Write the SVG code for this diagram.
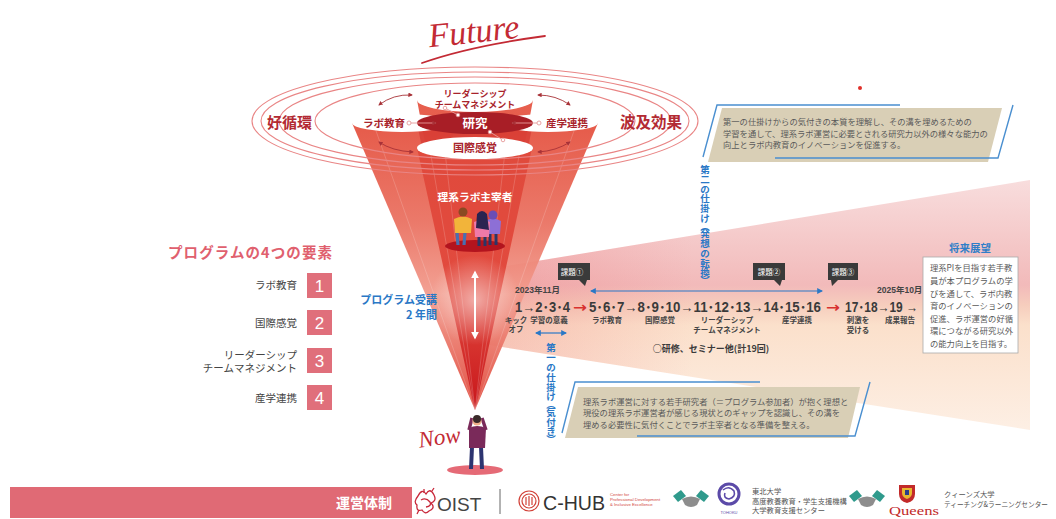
<svg xmlns="http://www.w3.org/2000/svg" width="1056" height="519" viewBox="0 0 1056 519">
<defs>
<style>
.ring{fill:none;stroke:#e98585;stroke-width:1.1}
.cap{fill:#fff}
.ct{font-family:"Noto Sans CJK JP",sans-serif;fill:#a8232b;font-weight:700;text-anchor:middle}
.bl{fill:none;stroke:#4a8fd0;stroke-width:1.4}
.paper{fill:#d9cfb6}
.note{font-family:"Noto Sans CJK JP",sans-serif;fill:#5a5a5a;font-size:8.3px}
.lbl{font-family:"Noto Sans CJK JP",sans-serif;fill:#444;font-size:7.5px;font-weight:700;text-anchor:middle}
.vert{font-family:"Noto Sans CJK JP",sans-serif;fill:#2a78c6;font-weight:700;font-size:9.5px;text-anchor:middle}
.tag{fill:#3a3a3a}
.tagt{font-family:"Noto Sans CJK JP",sans-serif;fill:#fff;font-size:7.5px;text-anchor:middle}
.num{font-family:"Liberation Sans","Noto Sans CJK JP",sans-serif;fill:#3a3a3a;font-size:14px;font-weight:700}
.ra{font-family:"DejaVu Sans",sans-serif;fill:#d8312f;font-size:14px;font-weight:700}
.date{font-family:"Liberation Sans","Noto Sans CJK JP",sans-serif;fill:#444;font-size:8.5px;font-weight:700}
.itm{fill:#e06f7b}
.itn{font-family:"Liberation Sans",sans-serif;fill:#fff;font-size:17px;text-anchor:middle}
.itl{font-family:"Noto Sans CJK JP",sans-serif;fill:#444;font-size:10.5px;text-anchor:end}
.arc{fill:none;stroke:#a83238;stroke-width:0.9}
.link{fill:none;stroke:#e79a9a;stroke-width:0.9}
.dot{fill:#fff;stroke:#e79a9a;stroke-width:0.9}
.wire{fill:none;stroke:#fff;stroke-opacity:0.22;stroke-width:0.8}
.orgt{font-family:"Noto Sans CJK JP",sans-serif;fill:#555;font-size:7.3px}
.hand-a{fill:#2f9a8c}
.hand-b{fill:#8d8d8d}
</style>
<linearGradient id="band" x1="0" y1="180" x2="0" y2="430" gradientUnits="userSpaceOnUse">
<stop offset="0" stop-color="#f8dddd"/>
<stop offset="0.42" stop-color="#f2baba"/>
<stop offset="0.5" stop-color="#f6cdbd"/>
<stop offset="0.58" stop-color="#fbe0cb"/>
<stop offset="1" stop-color="#fdefe4"/>
</linearGradient>
<linearGradient id="bandFade" x1="470" y1="0" x2="1030" y2="0" gradientUnits="userSpaceOnUse">
<stop offset="0" stop-color="#e9545a" stop-opacity="0.25"/>
<stop offset="0.4" stop-color="#e9545a" stop-opacity="0"/>
</linearGradient>
<linearGradient id="side" x1="0" y1="120" x2="0" y2="410" gradientUnits="userSpaceOnUse">
<stop offset="0" stop-color="#e4513f"/>
<stop offset="0.35" stop-color="#ea7262"/>
<stop offset="0.6" stop-color="#f29c8e"/>
<stop offset="1" stop-color="#e0473a"/>
</linearGradient>
<linearGradient id="back" x1="0" y1="100" x2="0" y2="410" gradientUnits="userSpaceOnUse">
<stop offset="0" stop-color="#e7604f"/>
<stop offset="1" stop-color="#d83a30"/>
</linearGradient>
<linearGradient id="front" x1="0" y1="148" x2="0" y2="410" gradientUnits="userSpaceOnUse">
<stop offset="0" stop-color="#e04a3c"/>
<stop offset="0.55" stop-color="#e24a3e"/>
<stop offset="1" stop-color="#c8161b"/>
</linearGradient>
<radialGradient id="glow" cx="475" cy="300" r="45" gradientUnits="userSpaceOnUse">
<stop offset="0" stop-color="#fff" stop-opacity="0.55"/>
<stop offset="1" stop-color="#fff" stop-opacity="0"/>
</radialGradient>
<marker id="ah" viewBox="0 0 10 10" refX="8" refY="5" markerWidth="5" markerHeight="5" orient="auto-start-reverse"><path d="M0,0 L10,5 L0,10 z" fill="#a83238"/></marker>
<marker id="ahb" viewBox="0 0 10 10" refX="8" refY="5" markerWidth="5" markerHeight="5" orient="auto-start-reverse"><path d="M0,0 L10,5 L0,10 z" fill="#2a78c6"/></marker>
<marker id="ahw" viewBox="0 0 10 10" refX="8" refY="5" markerWidth="4" markerHeight="4" orient="auto-start-reverse"><path d="M0,0 L10,5 L0,10 z" fill="#fff"/></marker>
</defs>

<rect width="1056" height="519" fill="#fff"/>

<!-- timeline band opening out of the funnel -->
<g id="band-wedge">
<path d="M470,272 L1030,180 L1030,430 L470,342 Z" fill="url(#band)"/>
<path d="M470,272 L1030,180 L1030,430 L470,342 Z" fill="url(#bandFade)"/>
</g>

<!-- heading script -->
<g id="future">
<text x="428" y="43" transform="rotate(-6 470 30)" font-family="Liberation Serif,serif" font-style="italic" font-size="34" fill="#c32a34">Future</text>
<path d="M422,63 Q470,46 545,36" fill="none" stroke="#c32a34" stroke-width="1.8" stroke-linecap="round"/>
</g>
<circle cx="860" cy="88" r="2" fill="#e0302a"/>

<!-- funnel: five cones and their caps -->
<g id="funnel">
<path d="M417,100 L475,410 L533,100 Z" fill="url(#back)"/>
<path d="M352,123 L475,410 L452,123 Z" fill="url(#side)" opacity="0.95"/>
<path d="M498,123 L475,410 L598,123 Z" fill="url(#side)" opacity="0.95"/>
<path d="M417,123 L475,410 L533,123 Z" fill="#d2302c" opacity="0.55"/>
<path d="M417,148 L475,410 L532,148 Z" fill="url(#front)"/>
<g class="wire">
<path d="M430,150 L475,410 M445,152 L475,410 M505,152 L475,410 M520,150 L475,410"/>
<path d="M375,128 L475,410 M575,128 L475,410"/>
</g>
<ellipse cx="475" cy="300" rx="45" ry="80" fill="url(#glow)"/>
</g>

<!-- orbit rings -->
<g id="rings">
<ellipse class="ring" cx="475" cy="121" rx="223" ry="54"/>
<ellipse class="ring" cx="475" cy="121" rx="214" ry="49"/>
<ellipse class="ring" cx="475" cy="121" rx="196" ry="44"/>
<ellipse class="ring" cx="475" cy="121" rx="160" ry="38"/>
</g>

<g id="node-leadership">
<ellipse class="cap" cx="475" cy="100" rx="58" ry="12"/>
<text class="ct" x="475" y="96.5" font-size="9">リーダーシップ</text>
<text class="ct" x="475" y="107.5" font-size="9">チームマネジメント</text>
</g>
<g id="node-labedu">
<ellipse class="cap" cx="402" cy="123" rx="50" ry="9"/>
<text class="ct" x="384" y="127" font-size="10.5">ラボ教育</text>
</g>
<g id="node-industry">
<ellipse class="cap" cx="548" cy="123" rx="50" ry="9"/>
<text class="ct" x="567" y="127" font-size="10.5">産学連携</text>
</g>
<g id="node-research">
<ellipse cx="475" cy="123" rx="58" ry="11" fill="#a81e26"/>
<text x="475" y="127.5" font-family="Noto Sans CJK JP,sans-serif" font-weight="700" font-size="12.5" fill="#fff" text-anchor="middle">研究</text>
</g>
<g id="node-global">
<ellipse class="cap" cx="475" cy="148" rx="58" ry="11"/>
<text class="ct" x="475" y="152" font-size="11">国際感覚</text>
</g>

<g id="node-cycle"><text x="267" y="128" font-family="Noto Sans CJK JP,sans-serif" font-weight="700" font-size="15" fill="#b32a33">好循環</text></g>
<g id="node-ripple"><text x="620" y="128" font-family="Noto Sans CJK JP,sans-serif" font-weight="700" font-size="15.5" fill="#b32a33">波及効果</text></g>

<!-- connectors between the elements -->
<g id="connectors">
<path class="arc" d="M379,105 Q393,94 412,95" marker-start="url(#ah)" marker-end="url(#ah)"/>
<path class="arc" d="M538,95 Q556,95 570,105" marker-start="url(#ah)" marker-end="url(#ah)"/>
<path class="arc" d="M379,142 Q392,151 413,152" marker-start="url(#ah)" marker-end="url(#ah)"/>
<path class="arc" d="M538,152 Q556,151 570,142" marker-start="url(#ah)" marker-end="url(#ah)"/>
<path class="link" d="M411,123 L436,123" marker-end="url(#ah)"/>
<circle class="dot" cx="409" cy="123" r="2"/>
<path class="link" d="M537,123 L512,123" marker-end="url(#ah)"/>
<circle class="dot" cx="539" cy="123" r="2"/>
<path class="link" d="M445,108 L458,115"/>
<circle class="dot" cx="445" cy="108" r="1.8"/><circle class="dot" cx="458" cy="115" r="1.8"/>
<path class="link" d="M490,132 L503,140"/>
<circle class="dot" cx="490" cy="132" r="1.8"/><circle class="dot" cx="503" cy="140" r="1.8"/>
<path d="M475,272 L475,338" stroke="#fff" stroke-width="2" marker-start="url(#ahw)" marker-end="url(#ahw)"/>
<path d="M536,333 L566,333" stroke="#2a78c6" stroke-width="1.2" marker-start="url(#ahb)" marker-end="url(#ahb)"/>
<path d="M591,291 L822,291" stroke="#2a78c6" stroke-width="1.2" marker-start="url(#ahb)" marker-end="url(#ahb)"/>
</g>

<!-- lab heads inside the funnel -->
<g id="node-pi">
<text x="475" y="201" font-family="Noto Sans CJK JP,sans-serif" font-weight="700" font-size="10.7" fill="#fff" text-anchor="middle">理系ラボ主宰者</text>
<ellipse cx="475" cy="246" rx="30" ry="6" fill="#b3141e"/>
<path d="M457,232 L458,245 M465,232 L464,245" stroke="#4a6fb0" stroke-width="3.2"/>
<path d="M454,219 Q463,214 472,219 L471,233 L455,233 Z" fill="#f2b43a"/>
<circle cx="463" cy="212" r="4.5" fill="#8a4a22"/>
<path d="M490,233 L490,245 M496,233 L496,245" stroke="#2c3566" stroke-width="3"/>
<path d="M485,221 Q493,216 501,221 L500,234 L486,234 Z" fill="#8d6fd6"/>
<circle cx="493" cy="215" r="4.5" fill="#6b4db5"/>
<path d="M479,235 L479,246 M485,235 L485,246" stroke="#2c3566" stroke-width="3"/>
<path d="M474,222 Q482,218 490,222 L489,237 L475,237 Z" fill="#f07aa8"/>
<path d="M477,214 Q482,208 487,214 L489,230 L476,228 Z" fill="#2b2450"/>
</g>

<g id="node-duration">
<text x="437" y="304" font-family="Noto Sans CJK JP,sans-serif" font-weight="700" font-size="11" fill="#2a78c6" text-anchor="end">プログラム受講</text>
<text x="437" y="319" font-family="Noto Sans CJK JP,sans-serif" font-weight="700" font-size="11" fill="#2a78c6" text-anchor="end">2 年間</text>
</g>

<g id="node-now">
<text x="418" y="445" font-family="Liberation Serif,serif" font-style="italic" font-size="23" fill="#c32a34" transform="rotate(-8 438 435)">Now</text>
<ellipse cx="475" cy="470" rx="28" ry="5" fill="#e0505e" opacity="0.85"/>
<path d="M472,447 L471,469 M481,447 L482,469" stroke="#2d3470" stroke-width="4"/>
<path d="M469,428 Q477,424 486,428 L485,448 L469,448 Z" fill="#7a2a5a"/>
<path d="M469,430 L472,418 M486,430 L482,418" stroke="#7a2a5a" stroke-width="3.4"/>
<circle cx="477" cy="421" r="4.6" fill="#f0b08a"/>
<circle cx="477" cy="419" r="4" fill="#3a2a2a"/>
</g>

<!-- four programme elements -->
<g id="node-elements">
<text x="168" y="258" font-family="Noto Sans CJK JP,sans-serif" font-weight="700" font-size="14.5" fill="#e0606e" textLength="164">プログラムの4つの要素</text>
<rect class="itm" x="307" y="273" width="25" height="25"/>
<text class="itn" x="319.5" y="291.5">1</text>
<text class="itl" x="297" y="289">ラボ教育</text>
<rect class="itm" x="307" y="310" width="25" height="25"/>
<text class="itn" x="319.5" y="328.5">2</text>
<text class="itl" x="297" y="327">国際感覚</text>
<rect class="itm" x="307" y="348" width="25" height="25"/>
<text class="itn" x="319.5" y="366.5">3</text>
<text class="itl" x="297" y="359">リーダーシップ</text>
<text class="itl" x="297" y="372">チームマネジメント</text>
<rect class="itm" x="307" y="385" width="25" height="25"/>
<text class="itn" x="319.5" y="403.5">4</text>
<text class="itl" x="297" y="402">産学連携</text>
</g>

<!-- timeline -->
<g id="node-timeline">
<path class="tag" d="M558,263 h32 v17 h-3 l-2,6 l-6,-6 h-21 z"/>
<text class="tagt" x="572" y="274.5">課題①</text>
<path class="tag" d="M753,263 h32 v17 h-3 l-2,6 l-6,-6 h-21 z"/>
<text class="tagt" x="769" y="274.5">課題②</text>
<path class="tag" d="M828,263 h30 v17 h-20 l-6,6 l-1,-6 h-3 z"/>
<text class="tagt" x="843" y="274.5">課題③</text>
<text class="date" x="515" y="293">2023年11月</text>
<text class="date" x="877" y="293">2025年10月</text>
<text class="num" x="515" y="312" textLength="55" lengthAdjust="spacingAndGlyphs">1→2･3･4</text>
<text class="ra" x="573" y="312" textLength="14" lengthAdjust="spacingAndGlyphs">→</text>
<text class="num" x="589" y="312" textLength="232" lengthAdjust="spacingAndGlyphs">5･6･7→8･9･10→11･12･13→14･15･16</text>
<text class="ra" x="826" y="312" textLength="14" lengthAdjust="spacingAndGlyphs">→</text>
<text class="num" x="845" y="312" textLength="73" lengthAdjust="spacingAndGlyphs">17･18→19 →</text>
<text class="lbl" x="516" y="323">キック</text>
<text class="lbl" x="516" y="332">オフ</text>
<text class="lbl" x="549" y="323">学習の意義</text>
<text class="lbl" x="607" y="323">ラボ教育</text>
<text class="lbl" x="660" y="323">国際感覚</text>
<text class="lbl" x="727" y="323">リーダーシップ</text>
<text class="lbl" x="727" y="333">チームマネジメント</text>
<text class="lbl" x="797" y="323">産学連携</text>
<text class="lbl" x="858" y="323">刺激を</text>
<text class="lbl" x="858" y="333">受ける</text>
<text class="lbl" x="900" y="323">成果報告</text>
<text x="711" y="352" font-family="Noto Sans CJK JP,sans-serif" font-weight="700" font-size="9" fill="#3a3a3a" text-anchor="middle">○研修、セミナー他(計19回)</text>
</g>

<g id="node-trigger2">
<text class="vert" x="705 705 705 705 705 705 705 705 705 705 705 705 705" y="172.9 182.7 192.5 202.3 212.1 221.9 229.6 237.2 247 256.8 266.6 276.4 284">第二の仕掛け︵発想の転換︶</text>
<path class="paper" d="M722,108 L1002,108 L988,162 L708,162 Z"/>
<path class="bl" d="M900,105 L717,105 L703,157"/>
<path class="bl" d="M775,158 L998,158 L1013,105"/>
<text class="note" x="723" y="125">第一の仕掛けからの気付きの本質を理解し、その溝を埋めるための</text>
<text class="note" x="723" y="136.5">学習を通して、理系ラボ運営に必要とされる研究力以外の様々な能力の</text>
<text class="note" x="723" y="148">向上とラボ内教育のイノベーションを促進する。</text>
</g>

<g id="node-trigger1">
<text class="vert" x="551 551 551 551 551 551 551 551 551 551 551" y="351.4 361.2 371 380.8 390.6 400.4 408 415.7 425.5 435.3 443">第一の仕掛け︵気付き︶</text>
<path class="paper" d="M578,387 L860,387 L848,438 L565,438 Z"/>
<path class="bl" d="M760,382 L575,382 L562,433"/>
<path class="bl" d="M637,436 L855,436 L870,382"/>
<text class="note" x="583" y="405">理系ラボ運営に対する若手研究者（＝プログラム参加者）が抱く理想と</text>
<text class="note" x="583" y="416">現役の理系ラボ運営者が感じる現状とのギャップを認識し、その溝を</text>
<text class="note" x="583" y="427.5">埋める必要性に気付くことでラボ主宰者となる準備を整える。</text>
</g>

<g id="node-vision">
<text x="970" y="252" font-family="Noto Sans CJK JP,sans-serif" font-weight="700" font-size="10.5" fill="#2f7ec8" text-anchor="middle">将来展望</text>
<rect x="923" y="257" width="95" height="96" fill="#fff" stroke="#aaa" stroke-width="0.8"/>
<g class="note">
<text x="930" y="271">理系PIを目指す若手教</text>
<text x="930" y="284">員が本プログラムの学</text>
<text x="930" y="296.5">びを通して、ラボ内教</text>
<text x="930" y="309">育のイノベーションの</text>
<text x="930" y="321.5">促進、ラボ運営の好循</text>
<text x="930" y="334">環につながる研究以外</text>
<text x="930" y="346.5">の能力向上を目指す。</text>
</g>
</g>

<!-- operating organisations -->
<g id="node-operation">
<rect x="10" y="487" width="402" height="31" fill="#e06a75"/>
<text x="364" y="508" font-family="Noto Sans CJK JP,sans-serif" font-weight="700" font-size="14" fill="#fff" text-anchor="middle">運営体制</text>
</g>
<g id="node-oist">
<g fill="none" stroke="#c8283a" stroke-width="1.3">
<path d="M418,496 q4,-8 8,-2 q4,-7 8,1 q3,6 -3,8 q5,5 -2,8 q-4,4 -7,-1 q-6,2 -5,-5 q-4,-3 1,-9z"/>
<path d="M421,500 q5,-3 9,2 q2,4 -4,5"/>
<path d="M424,493 l0,-4 M432,491 l2,-3 M419,510 l-2,4"/>
</g>
<text x="437" y="511" font-family="Liberation Sans,sans-serif" font-size="19" fill="#444">OIST</text>
<path d="M500,489 L500,514" stroke="#666" stroke-width="1"/>
</g>
<g id="node-chub">
<g fill="none" stroke="#d2433a" stroke-width="1.2">
<path d="M529,491 a10,10 0 0 0 0,20"/>
<path d="M529,494 a7,7 0 0 0 0,14"/>
<path d="M529,491 a10,10 0 0 1 0,20"/>
<path d="M529,494 a7,7 0 0 1 0,14"/>
<path d="M526,497 l0,8 M529,496 l0,10 M532,497 l0,8"/>
</g>
<text x="543" y="510" font-family="Liberation Sans,sans-serif" font-size="21" fill="#333" textLength="62" lengthAdjust="spacingAndGlyphs">C-HUB</text>
<g font-family="Liberation Sans,sans-serif" font-size="4.3" fill="#d2433a">
<text x="610" y="496">Center for</text>
<text x="610" y="501">Professional Development</text>
<text x="610" y="506">&amp; Inclusive Excellence</text>
</g>
</g>
<g id="node-partner1">
<path class="hand-a" d="M673,496 l8,-6 l5,6 l-8,6 z"/>
<path class="hand-a" d="M709,496 l-8,-6 l-5,6 l8,6 z"/>
<path class="hand-b" d="M682,499 q9,-5 18,0 l-3,6 q-6,4 -12,0 z"/>
</g>
<g id="node-tohoku">
<circle cx="729" cy="494" r="10" fill="none" stroke="#5b4aa8" stroke-width="3"/>
<path d="M723,490 q6,-5 11,1 q2,6 -5,8 q-6,-1 -4,-6" fill="none" stroke="#5b4aa8" stroke-width="1.6"/>
<text x="729" y="514" font-family="Liberation Sans,sans-serif" font-size="4" fill="#5b4aa8" text-anchor="middle">TOHOKU</text>
<text class="orgt" x="752" y="494">東北大学</text>
<text class="orgt" x="752" y="503.5">高度教養教育・学生支援機構</text>
<text class="orgt" x="752" y="513">大学教育支援センター</text>
</g>
<g id="node-partner2">
<path class="hand-a" d="M849,496 l8,-6 l5,6 l-8,6 z"/>
<path class="hand-a" d="M885,496 l-8,-6 l-5,6 l8,6 z"/>
<path class="hand-b" d="M858,499 q9,-5 18,0 l-3,6 q-6,4 -12,0 z"/>
</g>
<g id="node-queens">
<path d="M899,485 h16 v9 q0,7 -8,9 q-8,-2 -8,-9 z" fill="#c22a2a"/>
<path d="M902,488 h10 v5 q0,4 -5,6 q-5,-2 -5,-6 z" fill="#e8b830"/>
<path d="M905,490 h4 v5 h-4 z" fill="#2a3f8a"/>
<text x="889" y="515" font-family="Liberation Serif,serif" font-size="12.5" fill="#c22a2a" textLength="50" lengthAdjust="spacingAndGlyphs">Queens</text>
<text class="orgt" x="944" y="497">クィーンズ大学</text>
<text class="orgt" x="944" y="507" textLength="104" lengthAdjust="spacingAndGlyphs">ティーチング&amp;ラーニングセンター</text>
</g>
</svg>
